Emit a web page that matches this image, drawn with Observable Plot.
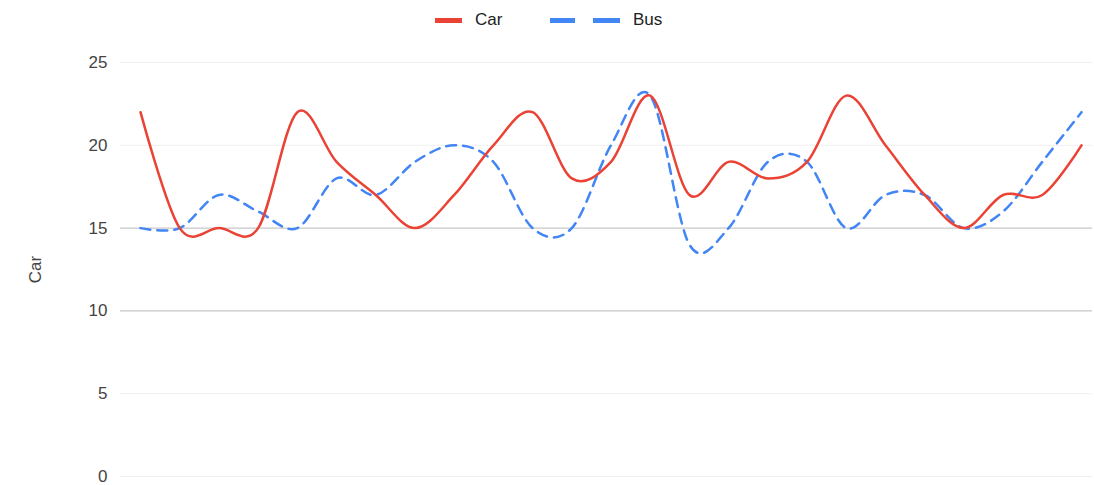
<!DOCTYPE html>
<html>
<head>
<meta charset="utf-8">
<script src="https://cdn.jsdelivr.net/npm/d3@7"></script>
<script src="https://cdn.jsdelivr.net/npm/@observablehq/plot@0.6"></script>
<style>
  body { margin: 0; background: #fff; font-family: "Liberation Sans", Arial, sans-serif; }
  #wrap { position: relative; width: 1094px; height: 485px; }
  #legend { position: relative; height: 42px; }
  .sw { position: absolute; height: 5px; top: 18px; }
  .lt { position: absolute; top: 10px; font-size: 17px; color: #222; line-height: 20px; }
  #chart svg text { fill: #444; }
</style>
</head>
<body>
<div id="wrap">
  <div id="legend"></div>
  <div id="chart"></div>
</div>
<script>
// data
const steps = [0,1,2,3,4,5,6,7,8,9,10,11,12,13,14,15,16,17,18,19,20,21,22,23,24];
const car = [22,15,15,15,22,19,17,15,17,20,22,18,19,23,17,19,18,19,23,20,17,15,17,17,20];
const bus = [15,15,17,16,15,18,17,19,20,19,15,15,20,23,14,15,19,19,15,17,17,15,16,19,22];
const yTicks = [0,5,10,15,20,25];
const seriesNames = ["Car", "Bus"];
const seriesColors = ["#ea4335", "#4285f4"];

const carRows = steps.map((s, i) => ({s, v: car[i]}));
const busRows = steps.map((s, i) => ({s, v: bus[i]}));

// legend
const legend = document.getElementById("legend");
legend.innerHTML =
  `<div class="sw" style="left:435px;width:27px;background:${seriesColors[0]}"></div>` +
  `<div class="lt" style="left:475px">${seriesNames[0]}</div>` +
  `<div class="sw" style="left:550px;width:25px;background:${seriesColors[1]}"></div>` +
  `<div class="sw" style="left:593px;width:27px;background:${seriesColors[1]}"></div>` +
  `<div class="lt" style="left:633px">${seriesNames[1]}</div>`;

const chart = Plot.plot({
  width: 1094,
  height: 443,
  marginLeft: 120,
  marginRight: 2,
  marginTop: 20,
  marginBottom: 9,
  style: {fontFamily: "'Liberation Sans', Arial, sans-serif", background: "#fff"},
  x: {domain: [0, 24], range: [140, 1081], axis: null},
  y: {domain: [0, 25]},
  marks: [
    Plot.ruleY(yTicks.filter(d => d !== 10 && d !== 15), {stroke: "#efefef", strokeWidth: 1}),
    Plot.ruleY(yTicks.filter(d => d === 10 || d === 15), {stroke: "#c8c8c8", strokeWidth: 1.2}),
    Plot.axisY(yTicks, {
      tickSize: 0, tickPadding: 13, fontSize: 17,
      label: "Car", labelAnchor: "center", labelArrow: "none", labelOffset: 92
    }),
    Plot.line(busRows, {x: "s", y: "v", curve: "cardinal", tension: 0, stroke: seriesColors[1],
      strokeWidth: 2.5, strokeDasharray: "10,7"}),
    Plot.line(carRows, {x: "s", y: "v", curve: "cardinal", tension: 0, stroke: seriesColors[0],
      strokeWidth: 2.5})
  ]
});
document.getElementById("chart").appendChild(chart);
</script>
</body>
</html>
